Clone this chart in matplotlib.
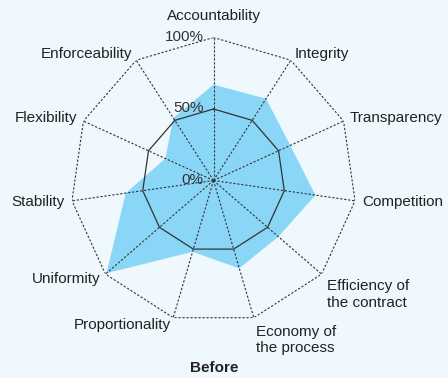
import numpy as np
import matplotlib
matplotlib.use("Agg")
import matplotlib.pyplot as plt

categories = ["Accountability", "Integrity", "Transparency", "Competition",
              "Efficiency of\nthe contract", "Economy of\nthe process",
              "Proportionality", "Uniformity", "Stability", "Flexibility",
              "Enforceability"]
values = [67, 68, 59, 72, 60, 64, 52, 99, 62, 37, 52]
ring_levels = [0, 50, 100]
ring_labels = ["0%", "50%", "100%"]
title = "Before"

plt.rcParams['font.family'] = ['Liberation Sans', 'DejaVu Sans']

bg = "#eff8fd"
fill_c = "#8ad6f6"
line_c = "#333333"

fig = plt.figure(figsize=(4.48, 3.78), dpi=100, facecolor=bg)
ax = fig.add_axes([0.1574, 0.1442, 0.6384, 0.7566], projection='polar')
ax.set_theta_zero_location('N')
ax.set_theta_direction(-1)
ax.patch.set_alpha(0)
ax.grid(False)
ax.set_xticks([])
ax.set_yticks([])
ax.spines['polar'].set_visible(False)
ax.set_ylim(0, 100)

n = len(categories)
angles = np.arange(n) * 2 * np.pi / n
closed = np.append(angles, angles[0])

vals = np.array(values + [values[0]])
ax.fill(closed, vals, color=fill_c, lw=0, zorder=1)

# grid
ax.plot(closed, [100] * (n + 1), color=line_c, lw=0.8, ls=(0, (2, 1.6)), zorder=3)
ax.plot(closed, [50] * (n + 1), color=line_c, lw=0.9, ls='-', zorder=3)
for a in angles:
    ax.plot([a, a], [0, 100], color=line_c, lw=0.8, ls=(0, (2, 1.6)), zorder=3)

# radial labels
for lv, lb in zip(ring_levels, ring_labels):
    ax.annotate(lb, xy=(0, lv), xytext=(-7, 0.5), textcoords='offset points',
                ha='right', va='center', fontsize=11, color='#333333', zorder=4)

# category labels
for a, lab in zip(angles, categories):
    s = np.sin(a)
    if abs(s) < 0.05:
        ha = 'center'
        r = 115
    elif s > 0:
        ha = 'left'
        r = 105
    else:
        ha = 'right'
        r = 105
    va = 'top' if '\n' in lab else 'center'
    ax.text(a, r, lab, ha=ha, va=va, fontsize=11, color='#222222',
            linespacing=1.25, clip_on=False)

fig.text(214 / 448, 1 - 368 / 378, title, ha='center', va='center',
         fontsize=11, fontweight='bold', color='#222222')

fig.savefig("out.png", dpi=100, facecolor=bg)
